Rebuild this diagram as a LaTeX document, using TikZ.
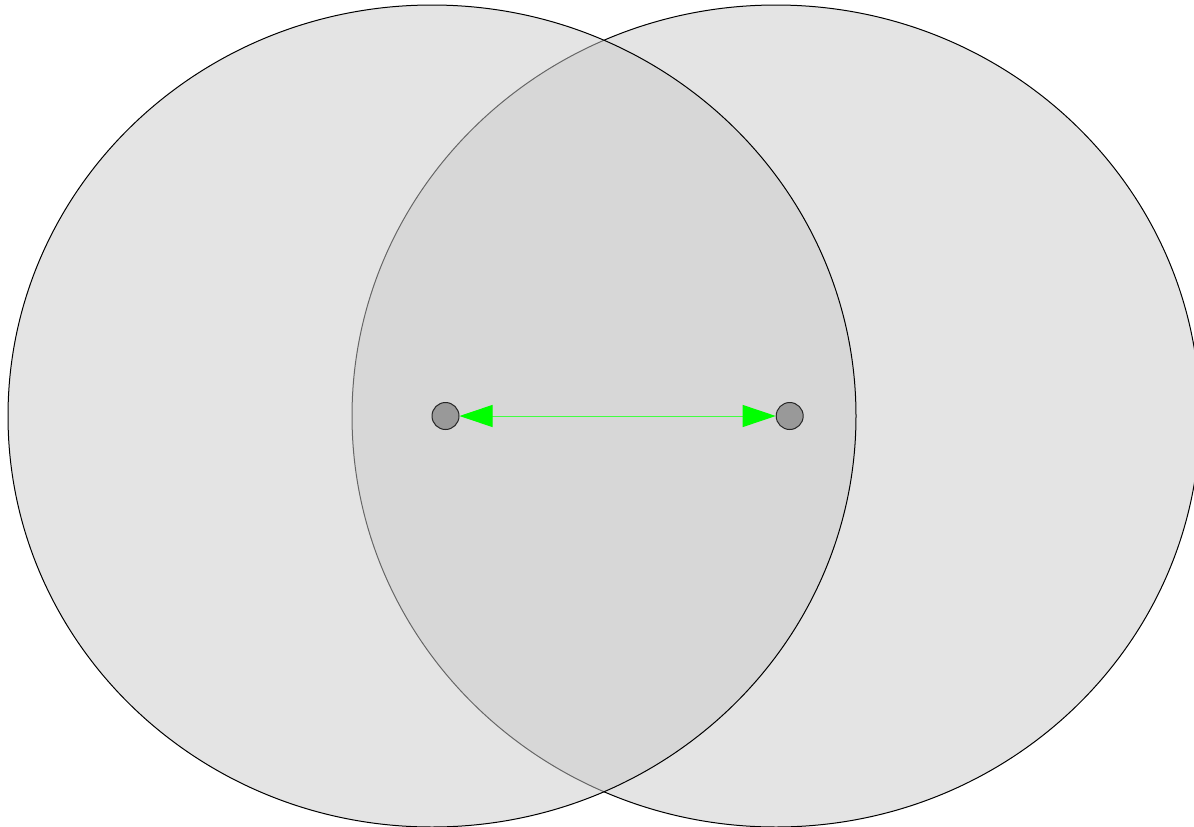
\documentclass[tikz,border=0pt]{standalone}
\usetikzlibrary{arrows.meta}
\definecolor{blobfill}{RGB}{203,203,203}
\definecolor{dotfill}{RGB}{153,153,153}
\definecolor{linkgreen}{RGB}{0,255,0}
\begin{document}
\begin{tikzpicture}[x=1pt,y=-1pt,
  blob/.style={draw=black,line width=1pt,fill=blobfill,fill opacity=0.5},
  dot/.style={circle,draw=black!85,line width=1pt,fill=dotfill,inner sep=0pt,minimum size=27pt},
  link/.style={draw=linkgreen!75,line width=1pt,{Triangle[length=33pt,width=22pt,fill=linkgreen,color=linkgreen]}-{Triangle[length=33pt,width=22pt,fill=linkgreen,color=linkgreen]}}]
\useasboundingbox (0,0) rectangle (1194,827);
\clip (0,0) rectangle (1194,827);
\fill[white] (0,0) rectangle (1194,827);
\path[blob] (776,416) ellipse [x radius=424, y radius=411];
\path[blob] (432,416) ellipse [x radius=424, y radius=411];
\node[dot] (a) at (445.5,416) {};
\node[dot] (b) at (789.7,416) {};
\draw[link] (a) -- (b);
\end{tikzpicture}
\end{document}
